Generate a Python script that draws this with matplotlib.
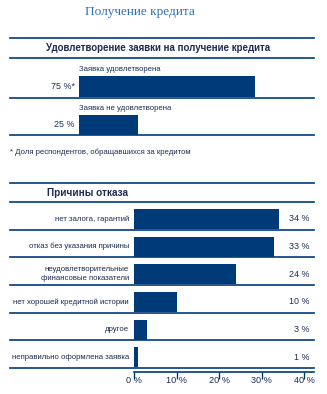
import matplotlib
matplotlib.use("Agg")
import matplotlib.pyplot as plt
from matplotlib.lines import Line2D

W, H = 327, 394
NAVY = "#003a78"
TXT = "#1c2c55"
FONT = ["Liberation Sans", "DejaVu Sans"]

title = "Получение кредита"
head1 = "Удовлетворение заявки на получение кредита"
head2 = "Причины отказа"
footnote = "* Доля респондентов, обращавшихся за кредитом"

approval_labels = ["Заявка удовлетворена", "Заявка не удовлетворена"]
approval_values = [75, 25]
approval_texts = ["75 %*", "25 %"]

reason_labels = ["нет залога, гарантий", "отказ без указания причины",
                 "неудовлетворительные\nфинансовые показатели",
                 "нет хорошей кредитной истории", "другое",
                 "неправильно оформлена заявка"]
reason_values = [34, 33, 24, 10, 3, 1]
xticks = [0, 10, 20, 30, 40]


def fx(x):
    return x / W


def fy(y):
    return 1 - y / H


def hline(fig, y, x0=10, x1=314, lw=1.2):
    fig.add_artist(Line2D([fx(x0), fx(x1)], [fy(y), fy(y)], color=NAVY, lw=lw))


plt.rcParams["font.family"] = FONT
fig = plt.figure(figsize=(W / 100, H / 100), dpi=100)

fig.text(fx(140), fy(12), title, ha="center", va="center", fontsize=9.5,
         family="Liberation Serif", color="#2f70b8")

# top block
hline(fig, 38)
fig.text(fx(158), fy(48), head1, ha="center", va="center", fontsize=7.0,
         fontweight="bold", color=TXT)
hline(fig, 58)

ax1 = fig.add_axes([fx(79), fy(135), (314 - 79) / W, (135 - 58) / H])
ax1.set_xlim(0, 100)
ax1.set_ylim(2, 0)
ax1.barh([0.74, 1.74], approval_values, height=0.52, left=0, color=NAVY, align="center")
for i, (lab, t) in enumerate(zip(approval_labels, approval_texts)):
    ax1.text(0, i + 0.3, lab, ha="left", va="center", fontsize=5.6, color=TXT)
    ax1.text(-1.8, i + 0.74, t, ha="right", va="center", fontsize=6.4, color=TXT)
ax1.axis("off")
hline(fig, 98)
hline(fig, 135)
fig.text(fx(10), fy(152), footnote, ha="left", va="center", fontsize=5.6, color=TXT)

# bottom block
hline(fig, 183)
fig.text(fx(47), fy(193), head2, ha="left", va="center", fontsize=7.2,
         fontweight="bold", color=TXT)
hline(fig, 202)

ax2 = fig.add_axes([fx(134), fy(372), (314 - 134) / W, (372 - 202) / H])
ax2.set_xlim(0, 42.3)
ax2.set_ylim(6.14, 0)
rows = list(range(len(reason_values)))
ax2.barh([r + 0.61 for r in rows], reason_values, height=0.72, color=NAVY)
for r, lab, v in zip(rows, reason_labels, reason_values):
    ax2.text(-1.2, r + 0.61, lab, ha="right", va="center", fontsize=5.6, color=TXT,
             linespacing=1.35)
    ax2.text(41.2, r + 0.61, f"{v} %", ha="right", va="center", fontsize=6.4, color=TXT)
    hline(fig, 202 + (r + 1) * 166 / 6)
for s in ["top", "right", "left"]:
    ax2.spines[s].set_visible(False)
ax2.spines["bottom"].set_color(NAVY)
ax2.spines["bottom"].set_linewidth(1.2)
ax2.set_yticks([])
ax2.set_xticks(xticks)
ax2.set_xticklabels([f"{t} %" for t in xticks])
ax2.tick_params(axis="x", colors=NAVY, labelcolor=TXT, length=5, width=1,
                direction="out", labelsize=6.6, pad=-2)

fig.savefig("out.png", dpi=100)
